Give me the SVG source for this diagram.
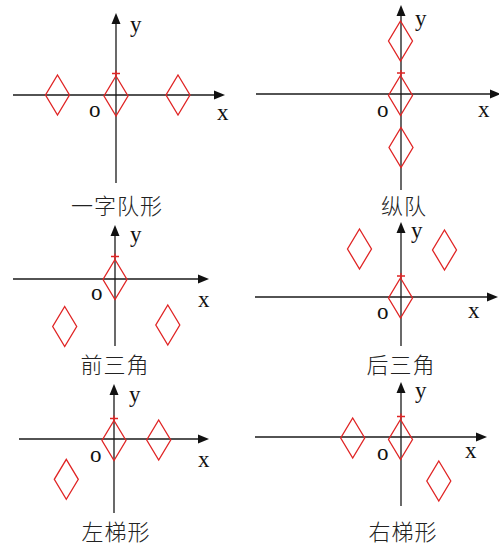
<svg xmlns="http://www.w3.org/2000/svg" width="499" height="544" viewBox="0 0 499 544">
<style>
.ax{stroke:#1a1a1a;stroke-width:1.3;fill:none}
.ah{fill:#111;stroke:none}
.dm{fill:none;stroke:#e02424;stroke-width:1.3}
.tk{stroke:#e02424;stroke-width:1.3;fill:none}
.lb{font-family:"Liberation Serif","Times New Roman",serif;font-size:23px;fill:#111}
.cap{font-family:"Liberation Serif","Noto Sans CJK SC",sans-serif;font-size:22px;font-weight:300;fill:#222;text-anchor:middle;letter-spacing:1px}
</style>
<defs>
<path id="d" d="M0,-20 L12,0 L0,20 L-12,0 Z"/>
</defs>
<rect width="499" height="544" fill="#fff"/>
<g id="connectors">
<line class="ax" x1="116" y1="20" x2="116" y2="183"/>
<polygon class="ah" points="116,13 111.5,24 120.5,24"/>
<line class="ax" x1="13" y1="95" x2="216" y2="95"/>
<polygon class="ah" points="225,95 214,90.5 214,99.5"/>
<line class="ax" x1="401" y1="12" x2="401" y2="190"/>
<polygon class="ah" points="401,5 396.5,16 405.5,16"/>
<line class="ax" x1="256" y1="94" x2="492" y2="94"/>
<polygon class="ah" points="501,94 490,89.5 490,98.5"/>
<line class="ax" x1="115" y1="232" x2="115" y2="346"/>
<polygon class="ah" points="115,225 110.5,236 119.5,236"/>
<line class="ax" x1="13" y1="279" x2="200" y2="279"/>
<polygon class="ah" points="209,279 198,274.5 198,283.5"/>
<line class="ax" x1="401" y1="229" x2="401" y2="346"/>
<polygon class="ah" points="401,222 396.5,233 405.5,233"/>
<line class="ax" x1="255" y1="297" x2="489" y2="297"/>
<polygon class="ah" points="498,297 487,292.5 487,301.5"/>
<line class="ax" x1="114" y1="391" x2="114" y2="513"/>
<polygon class="ah" points="114,384 109.5,395 118.5,395"/>
<line class="ax" x1="19" y1="439" x2="200" y2="439"/>
<polygon class="ah" points="209,439 198,434.5 198,443.5"/>
<line class="ax" x1="401" y1="389" x2="401" y2="506"/>
<polygon class="ah" points="401,382 396.5,393 405.5,393"/>
<line class="ax" x1="255" y1="437" x2="478" y2="437"/>
<polygon class="ah" points="487,437 476,432.5 476,441.5"/>
</g>
<g id="panel1">
<use href="#d" class="dm" x="57.5" y="95"/>
<use href="#d" class="dm" x="116" y="96"/>
<use href="#d" class="dm" x="178" y="95"/>
<path class="tk" d="M112,73.5 H120 M116,70.5 V76"/>
<text class="lb" x="130" y="32">y</text>
<text class="lb" x="217" y="120">x</text>
<text class="lb" x="89" y="117">o</text>
<text class="cap" x="117" y="214">一字队形</text>
</g>
<g id="panel2">
<use href="#d" class="dm" x="400.5" y="41"/>
<use href="#d" class="dm" x="400.5" y="95.5"/>
<use href="#d" class="dm" x="401" y="147.5"/>
<path class="tk" d="M397,73 H405 M401,70 V75.5"/>
<text class="lb" x="415" y="26">y</text>
<text class="lb" x="478" y="117">x</text>
<text class="lb" x="377" y="117">o</text>
<text class="cap" x="404" y="214">纵队</text>
</g>
<g id="panel3">
<use href="#d" class="dm" x="115" y="279.5"/>
<use href="#d" class="dm" x="64.7" y="326.5"/>
<use href="#d" class="dm" x="167.8" y="325"/>
<path class="tk" d="M111,256.5 H119 M115,253.5 V259"/>
<text class="lb" x="130" y="242">y</text>
<text class="lb" x="198" y="307">x</text>
<text class="lb" x="91" y="300">o</text>
<text class="cap" x="115" y="373">前三角</text>
</g>
<g id="panel4">
<use href="#d" class="dm" x="400.5" y="298"/>
<use href="#d" class="dm" x="359.5" y="249"/>
<use href="#d" class="dm" x="444.5" y="250"/>
<path class="tk" d="M397,276 H405 M401,273 V278.5"/>
<text class="lb" x="411" y="238">y</text>
<text class="lb" x="468" y="318">x</text>
<text class="lb" x="377" y="319">o</text>
<text class="cap" x="401" y="373">后三角</text>
</g>
<g id="panel5">
<use href="#d" class="dm" x="114" y="440.5"/>
<use href="#d" class="dm" x="158.7" y="440"/>
<use href="#d" class="dm" x="66.3" y="479.3"/>
<path class="tk" d="M110,418.5 H118 M114,415.5 V421"/>
<text class="lb" x="129" y="402">y</text>
<text class="lb" x="198" y="467">x</text>
<text class="lb" x="90" y="462">o</text>
<text class="cap" x="116" y="540">左梯形</text>
</g>
<g id="panel6">
<use href="#d" class="dm" x="400.5" y="439.5"/>
<use href="#d" class="dm" x="352.7" y="438"/>
<use href="#d" class="dm" x="438.8" y="481"/>
<path class="tk" d="M397,416.5 H405 M401,413.5 V419"/>
<text class="lb" x="415" y="398">y</text>
<text class="lb" x="465" y="458">x</text>
<text class="lb" x="377" y="460">o</text>
<text class="cap" x="403" y="540">右梯形</text>
</g>
</svg>
